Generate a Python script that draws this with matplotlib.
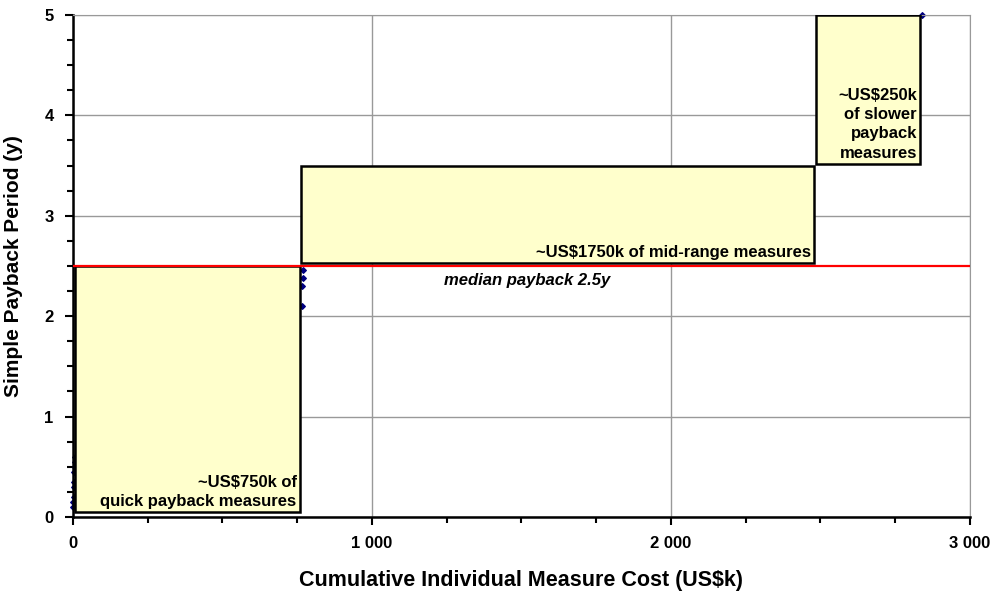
import matplotlib
matplotlib.use('Agg')
from matplotlib import pyplot as plt
from matplotlib.patches import Rectangle
from matplotlib.ticker import MultipleLocator, FuncFormatter

plt.rcParams['font.family'] = ['Liberation Sans', 'DejaVu Sans']
plt.rcParams['font.weight'] = 'bold'

# measures: cumulative cost (US$k) vs payback (y)
cum_cost = [0, 1, 2, 3, 4, 5, 6, 7, 8, 765, 767, 769, 770, 2840]
payback = [0.1, 0.15, 0.2, 0.3, 0.35, 0.45, 0.5, 0.55, 0.6, 2.1, 2.3, 2.38, 2.46, 5.0]

# groups of measures: (x0, x1, y0, y1, label)
box_x0 = [7, 763, 2485]
box_x1 = [758, 2478, 2833]
box_y0 = [0.05, 2.53, 3.52]
box_y1 = [2.5, 3.5, 5.0]
box_labels = ['~US$750k of\nquick payback measures',
              '~US$1750k of mid-range measures',
              '~US$250k\nof slower\npayback\nmeasures']

median_payback = 2.5

fig = plt.figure(figsize=(9.9, 5.97), dpi=100)
ax = fig.add_axes([0.0737, 0.134, 0.906, 0.841])

ax.scatter(cum_cost, payback, marker='D', s=8, color='#000080', zorder=2, clip_on=False)

for x0, x1, y0, y1, lab in zip(box_x0, box_x1, box_y0, box_y1, box_labels):
    ax.add_patch(Rectangle((x0, y0), x1 - x0, y1 - y0, facecolor='#FFFFCC',
                           edgecolor='black', linewidth=1.8, zorder=3))
    ax.text(x1 - 10, y0 + 0.03, lab, ha='right', va='bottom', fontsize=12,
            fontweight='bold', linespacing=1.35, zorder=4)

ax.axhline(median_payback, color='red', linewidth=1.6, zorder=4)
ax.text(1518, 2.36, 'median payback 2.5y', ha='center', va='center',
        fontsize=12, fontweight='bold', style='italic')

ax.set_xlim(0, 3000)
ax.set_ylim(0, 5)
ax.xaxis.set_major_locator(MultipleLocator(1000))
ax.xaxis.set_minor_locator(MultipleLocator(250))
ax.yaxis.set_major_locator(MultipleLocator(1))
ax.yaxis.set_minor_locator(MultipleLocator(0.25))
ax.xaxis.set_major_formatter(FuncFormatter(lambda v, p: f'{int(v):,}'.replace(',', ' ')))
ax.grid(True, which='major', color='#999999', linewidth=1)
ax.set_axisbelow(True)

ax.tick_params(which='major', direction='out', length=6, width=1.5, labelsize=12, pad=8)
ax.tick_params(which='minor', direction='out', length=4, width=1.5)
for lab in ax.get_xticklabels() + ax.get_yticklabels():
    lab.set_fontweight('bold')

ax.spines['left'].set_linewidth(1.8)
ax.spines['bottom'].set_linewidth(1.8)
ax.spines['top'].set_color('#999999')
ax.spines['right'].set_color('#999999')

ax.set_xlabel('Cumulative Individual Measure Cost (US$k)', fontsize=15.5, fontweight='bold', labelpad=13)
ax.set_ylabel('Simple Payback Period (y)', fontsize=15, fontweight='bold', labelpad=15)

fig.savefig('out.png', dpi=100)
